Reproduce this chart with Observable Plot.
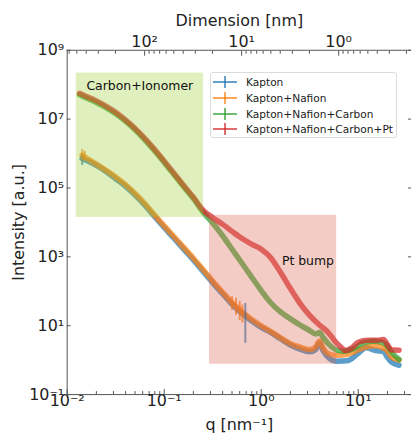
<!DOCTYPE html>
<html><head><meta charset="utf-8">
<script src="https://cdn.jsdelivr.net/npm/d3@7"></script>
<script src="https://cdn.jsdelivr.net/npm/@observablehq/plot@0.6"></script>
<style>
body{margin:0;width:411px;height:438px;overflow:hidden;background:#fff;font-family:"DejaVu Sans",sans-serif;}
#wrap{position:relative;width:411px;height:438px;overflow:hidden;}
#legend{position:absolute;left:210px;top:72px;width:187px;height:66px;border:1px solid #dcdcdc;border-radius:3px;background:rgba(255,255,255,0.85);box-sizing:border-box;font-size:10.6px;color:#222;}
.row{position:absolute;left:0;height:16px;display:flex;align-items:center;white-space:nowrap;}
.row svg{margin-left:2px;margin-right:9px;}
</style></head><body><div id="wrap"><div id="legend"></div></div>
<script>
// ---- data ----
const seriesNames = ["Kapton", "Kapton+Nafion", "Kapton+Nafion+Carbon", "Kapton+Nafion+Carbon+Pt"];
const seriesColors = ["#1f77b4", "#ff7f0e", "#2ca02c", "#d62728"];

const nafionQ = [0.01426,0.0178,0.0219,0.0316,0.0398,0.0501,0.0631,0.0794,0.1,0.126,0.158,0.2,0.251,0.316,0.398,0.501,0.631,0.794,1.0,1.26,1.58,2.0,2.51,3.16,3.63,3.98,4.37,5.01,6.03,7.94,10,12.0,15.1,18.2,20.0,21.9,26.3];
const kaptonI = [7.2e5,5.4e5,3.9e5,1.86e5,1.13e5,6.2e4,3.16e4,1.48e4,7.1e3,3.47e3,1.70e3,812,380,178,85,41.7,22.9,13.8,8.9,6.3,4.17,2.75,2.09,1.74,2.0,3.16,1.82,1.15,0.93,0.98,1.58,2.3,1.9,1.78,1.2,0.89,0.71];
const nafionI = [8.91e5,6.03e5,4.17e5,2.09e5,1.26e5,6.92e4,3.55e4,1.66e4,7.94e3,3.89e3,1.91e3,912,427,200,95.5,46.8,25.7,15.5,10.0,6.76,4.47,3.02,2.40,2.04,2.40,3.63,2.19,1.51,1.38,1.51,2.0,2.40,2.63,2.24,1.82,1.26,1.0];

const carbonQ = [0.0134,0.0158,0.020,0.0251,0.0316,0.0398,0.0501,0.0631,0.0794,0.1,0.126,0.158,0.200,0.251,0.316,0.398,0.501,0.631,0.794,1.0,1.26,1.58,2.0,2.51,3.16,3.63,3.98,4.37,5.01,6.03,7.08,8.91,11.2,14.1,17.8,20.0,22.9,26.3];
const carbonI = [5.1e7,4.1e7,3.05e7,2.15e7,1.42e7,8.7e6,4.9e6,2.5e6,1.2e6,5.5e5,2.45e5,1.1e5,4.9e4,2.0e4,9.55e3,4.17e3,1.66e3,661,263,105,45.7,25.1,15.8,10.5,7.24,5.75,6.31,4.47,2.82,1.95,1.82,2.14,3.16,3.55,3.31,2.51,1.51,1.05];

const ptQ = [0.0134,0.0158,0.020,0.0251,0.0316,0.0398,0.0501,0.0631,0.0794,0.1,0.126,0.158,0.200,0.251,0.316,0.398,0.501,0.631,0.794,1.0,1.26,1.58,2.0,2.51,3.16,3.98,4.68,5.25,5.89,6.61,7.41,8.51,10,12.6,15.8,18.2,20.0,21.9,26.3];
const ptI = [5.62e7,4.57e7,3.39e7,2.40e7,1.58e7,9.55e6,5.37e6,2.75e6,1.32e6,6.03e5,2.69e5,1.20e5,5.37e4,2.29e4,1.38e4,8.91e3,5.50e3,3.47e3,2.34e3,1.66e3,933,355,120,44.7,20.0,10.5,7.24,5.01,3.31,2.40,1.91,2.24,3.31,3.80,3.80,3.98,2.82,2.0,1.95];

// error bars (a few visible ones)
const errSeries = ["Kapton","Kapton","Kapton+Nafion","Kapton+Nafion","Kapton+Nafion","Kapton+Nafion","Kapton+Nafion","Kapton+Nafion"];
const errQ  = [0.686, 0.0143, 0.50, 0.55, 0.60, 0.64, 0.0143, 0.0152];
const errLo = [3.1, 4.5e5, 28, 20, 14, 12, 6.0e5, 6.2e5];
const errHi = [44, 9.0e5, 70, 62, 50, 40, 1.3e6, 1.15e6];

// shaded regions
const zoneNames = ["Carbon+Ionomer", "Pt bump"];
const zoneQ1 = [0.0124, 0.293];
const zoneQ2 = [0.254, 6.0];
const zoneI1 = [1.4e4, 0.76];
const zoneI2 = [2.17e8, 1.6e4];
const zoneFill = ["#9acd32", "#d9614a"];
const zoneLabelQ = [0.056, 3.03];
const zoneLabelI = [9.1e7, 760];

// axis ticks
const xMajor = [0.01, 0.1, 1, 10];
const yMajor = [1e-1, 1e1, 1e3, 1e5, 1e7, 1e9];
const dimMajor = [100, 10, 1];
const dimMinorMult = [2,3,4,5,6,7,8,9];

// ---- build ----
const sup = {"-":"⁻","0":"⁰","1":"¹","2":"²","3":"³","4":"⁴","5":"⁵","6":"⁶","7":"⁷","8":"⁸","9":"⁹"};
const pow10 = e => "10" + String(e).split("").map(c => sup[c]).join("");
const fmt = v => pow10(Math.round(Math.log10(v)));

const qMax = 35.4;
const series = [
  {name: seriesNames[0], q: nafionQ, I: kaptonI},
  {name: seriesNames[1], q: nafionQ, I: nafionI},
  {name: seriesNames[2], q: carbonQ, I: carbonI},
  {name: seriesNames[3], q: ptQ, I: ptI}
];
const colorOf = Object.fromEntries(seriesNames.map((n, i) => [n, seriesColors[i]]));
const lineMarks = series.map(s => Plot.line(s.q.map((q, i) => ({q, I: s.I[i]})),
  {x: "q", y: "I", stroke: colorOf[s.name], strokeWidth: 5.5, strokeOpacity: 0.72, curve: "monotone-x"}));
const errRows = errQ.map((q, i) => ({q, lo: errLo[i], hi: errHi[i], s: errSeries[i]}));
const zones = zoneNames.map((n, i) => ({n, x1: zoneQ1[i], x2: zoneQ2[i], y1: zoneI1[i], y2: zoneI2[i], fill: zoneFill[i], lq: zoneLabelQ[i], lI: zoneLabelI[i]}));

const xMinor = [];
for (let d = -2; d <= 1; d++) for (const m of dimMinorMult) { const v = m * 10 ** d; if (v <= qMax) xMinor.push(v); }
const topMajorQ = dimMajor.map(d => 2 * Math.PI / d);
const topMinorQ = [];
for (const base of [100, 10, 1, 0.1]) for (const m of dimMinorMult) { const q = 2 * Math.PI / (m * base); if (q >= 0.01 && q <= qMax) topMinorQ.push(q); }

const blank = () => "";
const chart = Plot.plot({
  width: 413, height: 438,
  marginLeft: 67, marginRight: 0, marginTop: 50, marginBottom: 42,
  style: {fontFamily: "DejaVu Sans", color: "#222", background: "transparent"},
  x: {type: "log", domain: [0.01, qMax]},
  y: {type: "log", domain: [0.1, 1e9]},
  marks: [
    ...lineMarks,
    Plot.ruleX(errRows.filter(d => d.s === seriesNames[0]), {x: "q", y1: "lo", y2: "hi", stroke: seriesColors[0], strokeWidth: 2, strokeOpacity: 0.7}),
    Plot.ruleX(errRows.filter(d => d.s === seriesNames[1]), {x: "q", y1: "lo", y2: "hi", stroke: seriesColors[1], strokeWidth: 2, strokeOpacity: 0.7}),
    Plot.rect(zones, {x1: "x1", x2: "x2", y1: "y1", y2: "y2", fill: d => d.fill, fillOpacity: 0.32}),
    Plot.text(zones, {x: "lq", y: "lI", text: "n", fontSize: 12.5, fill: "#111"}),
    Plot.frame({stroke: "#555"}),
    // bottom axis
    Plot.axisX({anchor: "bottom", ticks: xMajor, tickSize: -5, tickFormat: blank, label: null, stroke: "#555"}),
    Plot.axisX({anchor: "bottom", ticks: xMinor, tickSize: -3, tickFormat: blank, label: null, stroke: "#555"}),
    Plot.axisX({anchor: "bottom", ticks: xMajor, tickSize: 0, tickPadding: 0, tickFormat: fmt, fontSize: 16,
      label: "q [nm⁻¹]", labelAnchor: "center", labelOffset: 36, labelArrow: "none"}),
    // top axis (dimension = 2π/q)
    Plot.axisX({anchor: "top", ticks: topMajorQ, tickSize: -5, tickFormat: blank, label: null, stroke: "#555"}),
    Plot.axisX({anchor: "top", ticks: topMinorQ, tickSize: -3, tickFormat: blank, label: null, stroke: "#555"}),
    Plot.text(topMajorQ, {x: d => d, frameAnchor: "top", dy: -3, lineAnchor: "bottom", fontSize: 16, fill: "#222",
      text: q => pow10(Math.round(Math.log10(2 * Math.PI / q)))}),
    Plot.text(["Dimension [nm]"], {frameAnchor: "top", dy: -24, lineAnchor: "bottom", fontSize: 16, fill: "#222", text: d => d}),
    // y axes
    Plot.axisY({anchor: "left", ticks: yMajor, tickSize: -4, tickFormat: blank, label: null, stroke: "#555"}),
    Plot.axisY({anchor: "right", ticks: yMajor, tickSize: -4, tickFormat: blank, label: null, stroke: "#555"}),
    Plot.axisY({anchor: "left", ticks: yMajor, tickSize: 0, tickPadding: 3, tickFormat: fmt, fontSize: 16,
      label: "Intensity [a.u.]", labelAnchor: "center", labelOffset: 55, labelArrow: "none"})
  ]
});
document.getElementById("wrap").prepend(chart);

// legend
const legend = document.getElementById("legend");
const rowTops = [1, 17, 33, 48];
seriesNames.forEach((n, i) => {
  const row = document.createElement("div");
  row.className = "row";
  row.style.top = rowTops[i] + "px";
  row.innerHTML = `<svg width="24" height="14"><line x1="0" y1="7" x2="24" y2="7" stroke="${seriesColors[i]}" stroke-width="1.6" opacity="0.85"/><line x1="12" y1="1" x2="12" y2="13" stroke="${seriesColors[i]}" stroke-width="1.6" opacity="0.85"/></svg><span>${n}</span>`;
  legend.appendChild(row);
});
</script></body></html>
